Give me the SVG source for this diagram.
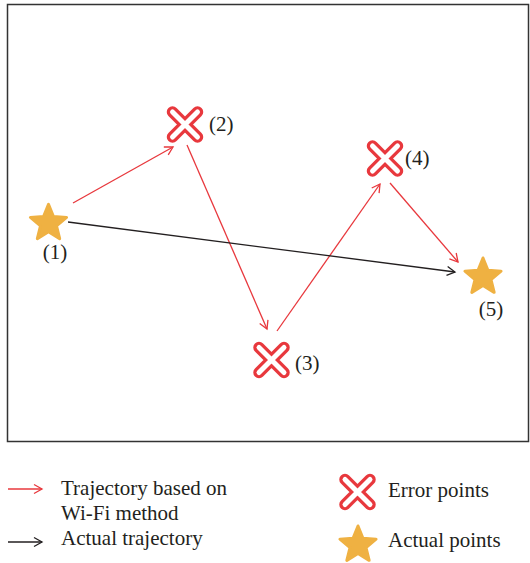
<svg xmlns="http://www.w3.org/2000/svg" width="530" height="563" viewBox="0 0 530 563">
<style>
.lbl{font-family:"Liberation Serif","Times New Roman",serif;font-size:21px;fill:#231f20}
.red{stroke:#e8383d;stroke-width:1.3;fill:none}
.blk{stroke:#231f20;stroke-width:1.3;fill:none}
</style>
<defs>
<marker id="ar" markerUnits="userSpaceOnUse" markerWidth="12" markerHeight="12" viewBox="-10 -6 12 12" refX="0" refY="0" orient="auto">
<path d="M-8,-4.5 L0,0 L-8,4.5" fill="none" stroke="#e8383d" stroke-width="1.3"/>
</marker>
<marker id="ab" markerUnits="userSpaceOnUse" markerWidth="12" markerHeight="12" viewBox="-10 -6 12 12" refX="0" refY="0" orient="auto">
<path d="M-8,-4.5 L0,0 L-8,4.5" fill="none" stroke="#231f20" stroke-width="1.3"/>
</marker>
<path id="star" d="M0,-19 L4.94,-6.8 L18.07,-5.87 L7.99,2.6 L11.17,15.37 L0,8.4 L-11.17,15.37 L-7.99,2.6 L-18.07,-5.87 L-4.94,-6.8 Z" fill="#efb142" stroke="#efb142" stroke-width="3" stroke-linejoin="round"/>
<g id="xm" stroke-linecap="round">
<path d="M-12.5,-12.5 L12.5,12.5 M12.5,-12.5 L-12.5,12.5" stroke="#e8383d" stroke-width="11.5"/>
<path d="M-12.5,-12.5 L12.5,12.5 M12.5,-12.5 L-12.5,12.5" stroke="#ffffff" stroke-width="5"/>
</g>
</defs>
<rect x="7.5" y="4.5" width="521" height="437" fill="#ffffff" stroke="#333333" stroke-width="1.5"/>
<g id="connectors">
<line class="red" x1="73" y1="203" x2="173" y2="147" marker-end="url(#ar)"/>
<line class="red" x1="187" y1="145" x2="267" y2="329" marker-end="url(#ar)"/>
<line class="red" x1="277" y1="331" x2="380" y2="184" marker-end="url(#ar)"/>
<line class="red" x1="390" y1="183" x2="458" y2="262" marker-end="url(#ar)"/>
<line class="blk" x1="68" y1="222" x2="455" y2="272" marker-end="url(#ab)"/>
</g>
<g id="p1"><use href="#star" x="48.5" y="223.3"/><text class="lbl" x="55" y="259" text-anchor="middle">(1)</text></g>
<g id="p2"><use href="#xm" x="185" y="124.5"/><text class="lbl" x="209" y="131">(2)</text></g>
<g id="p3"><use href="#xm" x="271.5" y="360"/><text class="lbl" x="295" y="370">(3)</text></g>
<g id="p4"><use href="#xm" x="385" y="158.5"/><text class="lbl" x="405" y="165">(4)</text></g>
<g id="p5"><use href="#star" x="483" y="277"/><text class="lbl" x="491" y="316" text-anchor="middle">(5)</text></g>
<g id="legend">
<line class="red" x1="8" y1="489" x2="42" y2="489" marker-end="url(#ar)"/>
<text class="lbl" x="61" y="495">Trajectory based on</text>
<text class="lbl" x="61" y="520">Wi-Fi method</text>
<line class="blk" x1="8" y1="542" x2="42" y2="542" marker-end="url(#ab)"/>
<text class="lbl" x="61" y="545">Actual trajectory</text>
<use href="#xm" x="357.5" y="492"/>
<text class="lbl" x="388" y="497">Error points</text>
<use href="#star" x="358" y="545"/>
<text class="lbl" x="388" y="547">Actual points</text>
</g>
</svg>
